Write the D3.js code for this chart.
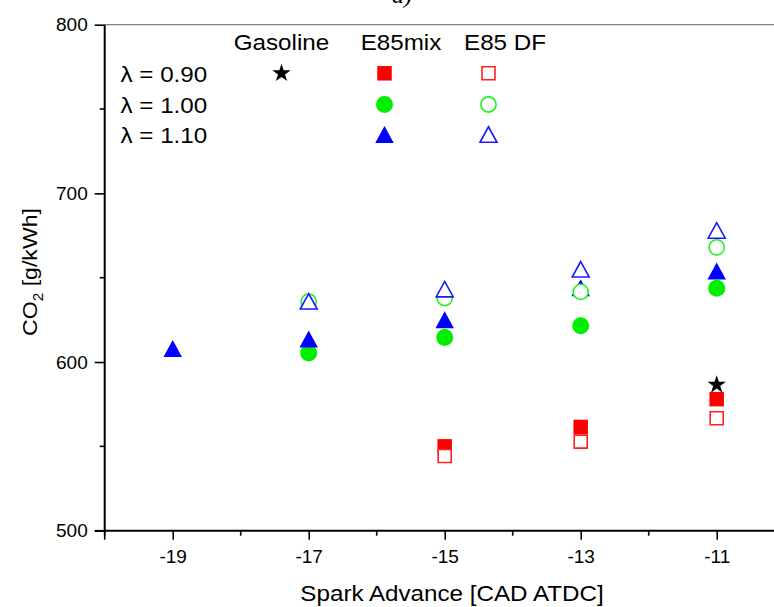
<!DOCTYPE html>
<html><head><meta charset="utf-8">
<script src="https://cdn.jsdelivr.net/npm/d3@7/dist/d3.min.js"></script>
<style>
html,body{margin:0;padding:0;background:#fff;overflow:hidden}
svg{display:block}
text{font-family:"Liberation Sans",Arial,sans-serif;fill:#000}
</style></head>
<body>
<script>
// ---- data ----
const sparkAdvance = [-19, -17, -15, -13, -11];
const gasoline090 = [null, null, null, null, 586.5];
const e85mix090 = [null, null, 550, 561.5, 578];
const e85df090  = [null, null, 544.3, 552.8, 566.7];
const e85mix100 = [null, 605.3, 614.5, 621.5, 643.7];
const e85df100  = [null, 635.8, 638, 641.6, 668];
const e85mix110 = [608, 613.6, 625, 644, 654];
const e85df110  = [null, 636, 643.2, 655, 678];
const xTicks = [-19, -17, -15, -13, -11];
const xMinor = [-20, -18, -16, -14, -12];
const yTicks = [500, 600, 700, 800];
const yMinor = [550, 650, 750];
const colHeaders = ["Gasoline", "E85mix", "E85 DF"];
const rowLabels = ["λ = 0.90", "λ = 1.00", "λ = 1.10"];

const W = 774, H = 607;
const svg = d3.select("body").append("svg").attr("width", W).attr("height", H);

const x = d3.scaleLinear().domain([-20, -10]).range([104.7, 784.7]);
const y = d3.scaleLinear().domain([500, 800]).range([530.7, 24.7]);

// title (cut off at the top edge, as in the reference)
svg.append("text").attr("x", 402).attr("y", 3).attr("text-anchor", "middle")
  .style("font-family", "'Liberation Serif',serif").style("font-style", "italic")
  .style("font-size", "24px").text("a)");

// top frame
svg.append("line").attr("x1", x(-20)).attr("x2", W).attr("y1", y(800)).attr("y2", y(800))
  .attr("stroke", "#808080").attr("stroke-width", 1.2);

// axes
const fmt = d => String(d);
const gx = svg.append("g").attr("transform", `translate(0,${y(500)})`);
gx.call(d3.axisBottom(x).tickValues(xTicks).tickSize(9).tickPadding(10).tickFormat(fmt));
xMinor.forEach(v => gx.append("line").attr("x1", x(v)).attr("x2", x(v)).attr("y1", 0).attr("y2", 5)
  .attr("stroke", "#000").attr("stroke-width", 1.6));
const gy = svg.append("g").attr("transform", `translate(${x(-20)},0)`);
gy.call(d3.axisLeft(y).tickValues(yTicks).tickSize(10).tickPadding(7).tickFormat(fmt));
yMinor.forEach(v => gy.append("line").attr("x1", 0).attr("x2", -5).attr("y1", y(v)).attr("y2", y(v))
  .attr("stroke", "#000").attr("stroke-width", 1.6));
[gx, gy].forEach(g => {
  g.select(".domain").attr("stroke", "#000").attr("stroke-width", 2);
  g.selectAll(".tick line").attr("stroke", "#000").attr("stroke-width", 1.6);
  g.selectAll(".tick text").style("font-size", "19px").attr("fill", "#000");
});
gx.select(".domain").attr("d", `M${x(-20)},0H${W + 20}`);
gy.select(".domain").attr("d", `M0,${y(800)}V${y(500)}`);
// cross tick at origin
svg.append("line").attr("x1", x(-20) - 10).attr("x2", x(-20) + 3).attr("y1", y(500)).attr("y2", y(500))
  .attr("stroke", "#000").attr("stroke-width", 1.6);
svg.append("line").attr("x1", x(-20)).attr("x2", x(-20)).attr("y1", y(500)).attr("y2", y(500) + 9)
  .attr("stroke", "#000").attr("stroke-width", 1.6);

// axis titles
svg.append("text").attr("transform", `translate(452,601) scale(1.1,1)`).attr("text-anchor", "middle")
  .style("font-size", "22px").text("Spark Advance [CAD ATDC]");
const yt = svg.append("text").attr("transform", `translate(37,272) rotate(-90) scale(1.1,1)`)
  .attr("text-anchor", "middle").style("font-size", "21px");
yt.append("tspan").text("CO");
yt.append("tspan").attr("dy", 6).style("font-size", "14px").text("2");
yt.append("tspan").attr("dy", -6).text(" [g/kWh]");

// symbol types
const sqType = s => ({draw(c){ c.rect(-s/2, -s/2, s, s); }});
const triType = (w, h) => ({draw(c){ c.moveTo(0, -h/2); c.lineTo(w/2, h/2); c.lineTo(-w/2, h/2); c.closePath(); }});
const symbols = {
  fsq: {type: sqType(14.5), fill: "#ff0000", stroke: "none", sw: 0},
  osq: {type: sqType(13), fill: "#fff", stroke: "#ff2020", sw: 1.6},
  fci: {type: d3.symbolCircle, size: Math.PI * 8.5 * 8.5, fill: "#00ee00", stroke: "none", sw: 0},
  oci: {type: d3.symbolCircle, size: Math.PI * 7.6 * 7.6, fill: "#fff", stroke: "#22ee22", sw: 1.6},
  ftr: {type: triType(18.5, 17), fill: "#0000ff", stroke: "none", sw: 0},
  otr: {type: triType(17, 15.5), fill: "#fff", stroke: "#1a1aff", sw: 1.6},
  star:{type: d3.symbolStar, size: 105, fill: "#000", stroke: "none", sw: 0}
};
function path(key){ const s = symbols[key]; return d3.symbol().type(s.type).size(s.size || 64)(); }

const series = [
  {vals: e85mix100, sym: "fci"},
  {vals: e85mix110, sym: "ftr"},
  {vals: e85df100, sym: "oci"},
  {vals: e85df110, sym: "otr"},
  {vals: e85mix090, sym: "fsq"},
  {vals: e85df090, sym: "osq"},
  {vals: gasoline090, sym: "star"}
];
series.forEach(se => {
  const s = symbols[se.sym];
  const pts = sparkAdvance.map((a, i) => ({a, v: se.vals[i]})).filter(d => d.v != null);
  svg.append("g").selectAll("path").data(pts).join("path")
    .attr("d", path(se.sym))
    .attr("transform", d => `translate(${x(d.a)},${y(d.v)})`)
    .attr("fill", s.fill).attr("stroke", s.stroke).attr("stroke-width", s.sw);
});

// legend
const colX = [281.5, 384.5, 488.5];
const headX = [281.5, 401, 505];
const rowY = [73.3, 104.5, 134.5];
colHeaders.forEach((t, i) => svg.append("text")
  .attr("transform", `translate(${headX[i]},50) scale(1.1,1)`).attr("text-anchor", "middle")
  .style("font-size", "22px").text(t));
rowLabels.forEach((t, i) => svg.append("text")
  .attr("transform", `translate(120.5,${rowY[i] + 8.5}) scale(1.1,1)`)
  .style("font-size", "22px").text(t));
const legendGrid = [["star", "fsq", "osq"], [null, "fci", "oci"], [null, "ftr", "otr"]];
legendGrid.forEach((row, r) => row.forEach((k, c) => {
  if (!k) return;
  const s = symbols[k];
  svg.append("path").attr("d", path(k)).attr("transform", `translate(${colX[c]},${rowY[r]})`)
    .attr("fill", s.fill).attr("stroke", s.stroke).attr("stroke-width", s.sw);
}));
</script>
</body></html>
